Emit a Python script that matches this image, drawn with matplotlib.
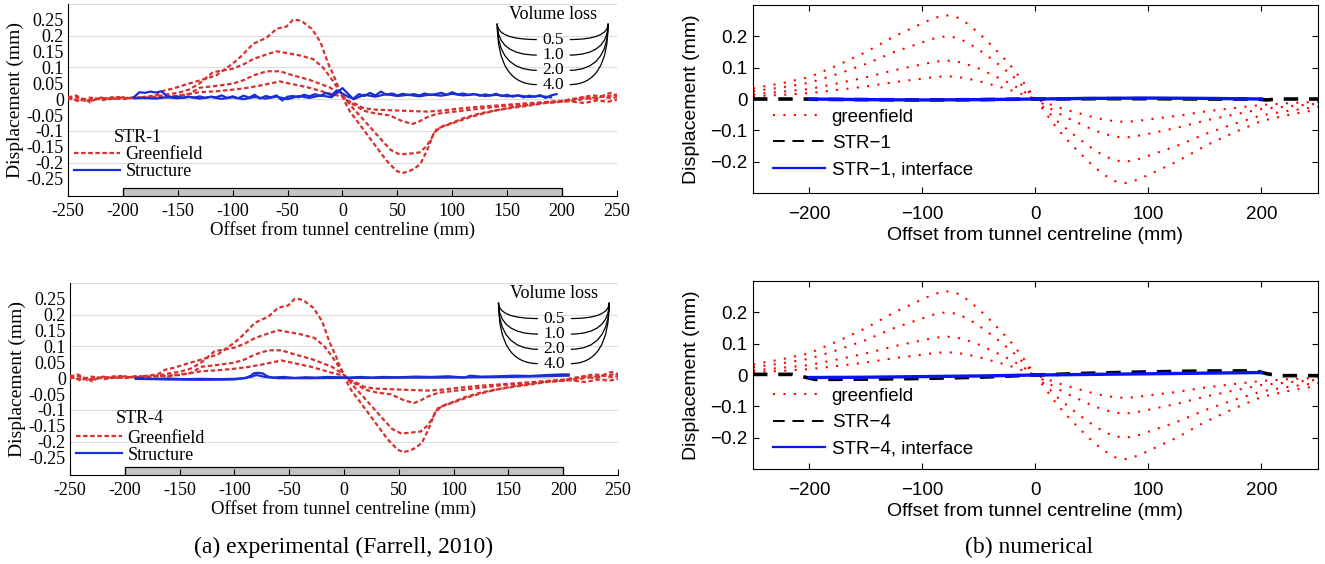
import matplotlib.pyplot as plt
from matplotlib.lines import Line2D
from matplotlib.patches import Rectangle, PathPatch
from matplotlib.path import Path

SERIF = 'Liberation Serif'
SANS = 'Liberation Sans'

# ---- (a) experimental greenfield curves, one per volume loss (%)
gf_exp_x_40 = [-250, -245, -240, -235, -230, -225, -220, -210, -200, -190,
               -180, -170, -163, -155, -142, -130, -115, -100, -93, -81,
               -69, -60, -51, -45, -40, -36, -28, -20, -13, -8,
               -4, 0, 3, 7, 13, 22, 31, 40, 49, 54,
               60, 65, 71, 77, 83, 89, 98, 110, 125, 140,
               155, 170, 185, 200, 210, 220, 230, 238, 244, 250]
gf_exp_y_40 = [0.010, 0.000, -0.008, 0.002, -0.010, 0.000, 0.005, 0.000, 0.006, 0.002,
               0.008, 0.012, 0.027, 0.033, 0.047, 0.059, 0.075, 0.112, 0.133, 0.175,
               0.194, 0.222, 0.229, 0.250, 0.249, 0.243, 0.222, 0.180, 0.112, 0.075,
               0.040, 0.010, -0.014, -0.040, -0.067, -0.109, -0.151, -0.193, -0.225, -0.233,
               -0.228, -0.220, -0.204, -0.162, -0.109, -0.088, -0.077, -0.060, -0.045, -0.035,
               -0.025, -0.018, -0.010, -0.006, 0.000, 0.005, 0.000, 0.012, 0.020, 0.010]

gf_exp_x_20 = [-250, -243, -236, -228, -220, -212, -204, -196, -188, -180,
               -170, -160, -150, -140, -130, -118, -100, -90, -81, -70,
               -60, -50, -39, -27, -18, -11, -5, 0, 4, 10,
               18, 27, 36, 44, 52, 60, 70, 76, 80, 86,
               95, 105, 115, 125, 140, 155, 170, 185, 200, 212,
               224, 236, 244, 250]
gf_exp_y_20 = [0.005, 0.012, 0.000, -0.005, 0.004, 0.000, 0.007, 0.003, 0.006, 0.004,
               0.008, 0.015, 0.020, 0.030, 0.050, 0.085, 0.096, 0.110, 0.127, 0.140,
               0.151, 0.145, 0.138, 0.127, 0.101, 0.069, 0.038, 0.012, -0.005, -0.030,
               -0.060, -0.095, -0.130, -0.160, -0.174, -0.172, -0.168, -0.150, -0.130, -0.093,
               -0.082, -0.070, -0.058, -0.048, -0.035, -0.027, -0.020, -0.012, -0.008, -0.004,
               0.003, 0.008, 0.004, 0.006]

gf_exp_x_10 = [-250, -242, -234, -226, -218, -210, -200, -190, -180, -170,
               -160, -150, -140, -130, -115, -100, -90, -81, -69, -57,
               -45, -30, -20, -11, -4, 0, 5, 12, 19, 30,
               43, 55, 64, 70, 77, 86, 100, 115, 130, 150,
               170, 190, 205, 220, 232, 242, 250]
gf_exp_y_10 = [0.000, 0.006, -0.006, 0.003, -0.003, 0.004, 0.000, 0.006, 0.003, 0.008,
               0.006, 0.012, 0.016, 0.036, 0.042, 0.049, 0.060, 0.075, 0.088, 0.088,
               0.075, 0.061, 0.048, 0.036, 0.020, 0.010, -0.008, -0.020, -0.036, -0.045,
               -0.051, -0.070, -0.078, -0.070, -0.057, -0.046, -0.040, -0.034, -0.028, -0.020,
               -0.015, -0.010, -0.006, -0.012, -0.004, -0.008, -0.002]

gf_exp_x_05 = [-250, -240, -230, -220, -210, -200, -190, -180, -170, -160,
               -150, -130, -115, -100, -88, -75, -57, -45, -30, -13,
               -5, 0, 5, 12, 19, 30, 45, 60, 77, 90,
               105, 120, 140, 160, 180, 200, 215, 228, 240, 250]
gf_exp_y_05 = [0.004, -0.004, 0.005, 0.000, 0.006, 0.002, 0.005, 0.004, 0.006, 0.008,
               0.010, 0.022, 0.025, 0.030, 0.035, 0.043, 0.056, 0.047, 0.036, 0.019,
               0.012, 0.008, -0.005, -0.015, -0.028, -0.033, -0.035, -0.037, -0.039, -0.036,
               -0.030, -0.025, -0.020, -0.015, -0.010, -0.005, 0.004, 0.012, 0.008, 0.015]

# ---- (a) measured structure displacement, STR-1 (two traces)
str1_exp_x_a = [-190, -185, -180, -175, -170, -165, -160, -155, -150, -145,
                -140, -135, -130, -125, -120, -115, -110, -105, -100, -95,
                -90, -85, -80, -75, -70, -65, -60, -55, -50, -45,
                -40, -35, -30, -25, -20, -15, -10, -5, 0, 5,
                10, 15, 20, 25, 30, 35, 40, 45, 50, 55,
                60, 65, 70, 75, 80, 85, 90, 95, 100, 105,
                110, 115, 120, 125, 130, 135, 140, 145, 150, 155,
                160, 165, 170, 175, 180, 185, 190, 195]
str1_exp_y_a = [0.006, 0.022, 0.020, 0.024, 0.021, 0.025, 0.010, 0.006, 0.008, 0.004,
                0.007, 0.005, 0.009, 0.004, 0.008, 0.006, 0.012, 0.004, 0.009, 0.003,
                0.011, 0.005, 0.014, 0.002, 0.010, 0.006, 0.012, -0.004, 0.008, 0.010,
                0.006, 0.014, 0.009, 0.016, 0.010, 0.020, 0.012, 0.028, 0.018, 0.008,
                0.002, 0.016, 0.010, 0.020, 0.012, 0.024, 0.014, 0.018, 0.012, 0.017,
                0.013, 0.016, 0.012, 0.018, 0.013, 0.016, 0.020, 0.014, 0.022, 0.015,
                0.018, 0.013, 0.016, 0.011, 0.015, 0.012, 0.017, 0.010, 0.014, 0.008,
                0.012, 0.006, 0.011, 0.008, 0.013, 0.004, 0.012, 0.016]
str1_exp_x_b = [-190, -180, -170, -160, -150, -140, -130, -120, -110, -100,
                -90, -80, -70, -60, -50, -40, -30, -20, -10, 0,
                10, 20, 30, 40, 50, 60, 70, 80, 90, 100,
                110, 120, 130, 140, 150, 160, 170, 180, 190]
str1_exp_y_b = [0.003, 0.004, 0.002, 0.006, 0.003, 0.008, 0.002, 0.007, 0.001, 0.006,
                0.000, 0.007, 0.002, 0.008, 0.000, 0.010, 0.004, 0.012, 0.006, 0.035,
                0.000, 0.014, 0.008, 0.016, 0.010, 0.014, 0.009, 0.015, 0.011, 0.017,
                0.012, 0.016, 0.010, 0.014, 0.009, 0.012, 0.007, 0.010, 0.006]

# ---- (a) measured structure displacement, STR-4 (two traces)
str4_exp_x_a = [-190, -175, -160, -145, -130, -115, -100, -90, -85, -82,
                -78, -74, -70, -65, -55, -45, -35, -25, -15, -5,
                5, 15, 25, 35, 50, 65, 80, 95, 110, 115,
                125, 140, 155, 170, 185, 200, 205]
str4_exp_y_a = [0.000, -0.002, -0.001, -0.003, -0.002, -0.003, -0.002, 0.000, 0.008, 0.016,
                0.017, 0.015, 0.006, 0.002, 0.004, 0.001, 0.003, 0.002, 0.004, 0.003,
                0.002, 0.004, 0.002, 0.004, 0.003, 0.005, 0.004, 0.006, 0.002, 0.008,
                0.005, 0.006, 0.008, 0.007, 0.010, 0.012, 0.012]
str4_exp_x_b = [-190, -160, -130, -100, -85, -80, -72, -60, -30, 0,
                30, 60, 90, 120, 150, 180, 205]
str4_exp_y_b = [-0.002, -0.004, -0.005, -0.004, 0.004, 0.010, 0.004, 0.000, 0.000, 0.001,
                0.001, 0.002, 0.002, 0.003, 0.004, 0.006, 0.008]

STRUCTURE_SPAN = (-200, 200)
VOLUME_LOSS_LABELS = ['0.5', '1.0', '2.0', '4.0']
VOLUME_LOSS_Y = [0.188, 0.139, 0.091, 0.046]

exp_xticks = [-250, -200, -150, -100, -50, 0, 50, 100, 150, 200, 250]
exp_xlabels = ['-250', '-200', '-150', '-100', '-50', '0', '50', '100', '150', '200', '250']
exp_yticks = [-0.25, -0.2, -0.15, -0.1, -0.05, 0, 0.05, 0.1, 0.15, 0.2, 0.25]
exp_ylabels = ['-0.25', '-0.2', '-0.15', '-0.1', '-0.05', '0', '0.05', '0.1', '0.15', '0.2', '0.25']
exp_grid = [-0.2, -0.1, 0.0, 0.1, 0.2, 0.3]

# ---- (b) numerical greenfield curves
gf_num_x = [-250, -225, -200, -175, -150, -125, -100, -90, -80, -70, -60, -50, -40, -30, -20, -10, 0,
            10, 20, 30, 40, 50, 60, 70, 80, 90, 100, 125, 150, 175, 200, 225, 250]
gf_num_40 = [0.034, 0.050, 0.070, 0.108, 0.150, 0.200, 0.242, 0.258, 0.268, 0.262, 0.240, 0.210,
             0.175, 0.138, 0.098, 0.050, 0.0,
             -0.050, -0.098, -0.138, -0.175, -0.210, -0.240, -0.262, -0.268, -0.258, -0.242,
             -0.200, -0.150, -0.108, -0.070, -0.050, -0.034]
gf_num_20 = [0.025, 0.037, 0.052, 0.080, 0.112, 0.150, 0.181, 0.193, 0.200, 0.196, 0.180, 0.157,
             0.131, 0.103, 0.073, 0.037, 0.0,
             -0.037, -0.073, -0.103, -0.131, -0.157, -0.180, -0.196, -0.200, -0.193, -0.181,
             -0.150, -0.112, -0.080, -0.052, -0.037, -0.025]
gf_num_10 = [0.015, 0.023, 0.032, 0.050, 0.069, 0.092, 0.111, 0.118, 0.123, 0.120, 0.110, 0.097,
             0.080, 0.063, 0.045, 0.023, 0.0,
             -0.023, -0.045, -0.063, -0.080, -0.097, -0.110, -0.120, -0.123, -0.118, -0.111,
             -0.092, -0.069, -0.050, -0.032, -0.023, -0.015]
gf_num_05 = [0.009, 0.013, 0.019, 0.029, 0.040, 0.054, 0.065, 0.070, 0.073, 0.071, 0.065, 0.057,
             0.047, 0.037, 0.026, 0.013, 0.0,
             -0.013, -0.026, -0.037, -0.047, -0.057, -0.065, -0.071, -0.073, -0.070, -0.065,
             -0.054, -0.040, -0.029, -0.019, -0.013, -0.009]

# ---- (b) numerical structure results
str_num_x = [-250, -215, -205, -195, -150, -100, -50, 0, 50, 100, 150, 195, 205, 215, 250]
str1_num = [0.0, 0.0, 0.0, -0.001, -0.002, -0.003, -0.002, 0.0, 0.001, 0.001, 0.0, 0.0, -0.003, 0.0, 0.0]
str4_num = [0.002, 0.002, -0.006, -0.014, -0.013, -0.011, -0.007, 0.0, 0.006, 0.010, 0.013, 0.013,
            0.004, -0.002, -0.002]
iface_x = [-200, -150, -100, -50, 0, 50, 100, 150, 200]
str1_iface = [0.0, -0.002, -0.003, -0.002, 0.0, 0.002, 0.003, 0.002, 0.0]
str4_iface = [-0.008, -0.007, -0.005, -0.003, 0.0, 0.002, 0.004, 0.006, 0.008]

num_xticks = [-200, -100, 0, 100, 200]
num_xlabels = ['\u2212200', '\u2212100', '0', '100', '200']
num_yticks = [-0.2, -0.1, 0, 0.1, 0.2]
num_ylabels = ['\u22120.2', '\u22120.1', '0', '0.1', '0.2']

RED_EXP = '#d8302c'
BLUE_EXP = '#1a2ed6'
BLUE_NUM = '#0a14f0'
EXP_DASH = (0, (2.0, 1.2))
NUM_DOT = (0, (1, 4))


def volume_loss_key(ax):
    ax.text(192, 0.266, 'Volume loss', family=SERIF, fontsize=13, ha='center', va='center')
    y_top = 0.238
    for lab, yl in zip(VOLUME_LOSS_LABELS, VOLUME_LOSS_Y):
        ax.text(192, yl, lab, family=SERIF, fontsize=12.5, ha='center', va='center')
        left = Path([(141, y_top), (141, yl), (177, yl)], [Path.MOVETO, Path.CURVE3, Path.CURVE3])
        right = Path([(242, y_top), (242, yl), (207, yl)], [Path.MOVETO, Path.CURVE3, Path.CURVE3])
        for p in (left, right):
            ax.add_patch(PathPatch(p, fc='none', ec='black', lw=0.9))


def draw_experimental(ax, name, traces, legend_y, name_y):
    for yv in exp_grid:
        ax.axhline(yv, color='#dcdcdc', lw=0.8, zorder=0)
    ax.add_patch(Rectangle((STRUCTURE_SPAN[0], -0.31), STRUCTURE_SPAN[1] - STRUCTURE_SPAN[0], 0.03,
                           fc='#c4c4c4', ec='black', lw=0.9, zorder=1))
    for gx, gy in [(gf_exp_x_40, gf_exp_y_40), (gf_exp_x_20, gf_exp_y_20),
                   (gf_exp_x_10, gf_exp_y_10), (gf_exp_x_05, gf_exp_y_05)]:
        ax.plot(gx, gy, color=RED_EXP, lw=1.6, ls=EXP_DASH, zorder=3)
    for sx, sy in traces:
        ax.plot(sx, sy, color=BLUE_EXP, lw=1.6, zorder=4)
    ax.set_xlim(-250, 250)
    ax.set_ylim(-0.305, 0.3)
    ax.set_xticks(exp_xticks, exp_xlabels)
    ax.set_yticks(exp_yticks, exp_ylabels)
    for lab in ax.get_xticklabels() + ax.get_yticklabels():
        lab.set_family(SERIF)
        lab.set_fontsize(13)
    ax.tick_params(axis='x', direction='in', length=4, pad=5)
    ax.tick_params(axis='y', length=0, pad=3)
    for s in ('top', 'right'):
        ax.spines[s].set_visible(False)
    ax.set_xlabel('Offset from tunnel centreline (mm)', family=SERIF, fontsize=13.5, labelpad=1)
    ax.set_ylabel('Displacement (mm)', family=SERIF, fontsize=14, labelpad=2)
    ax.text(-208, name_y, name, family=SERIF, fontsize=13, ha='left', va='center')
    handles = [Line2D([], [], color=RED_EXP, lw=1.6, ls=EXP_DASH),
               Line2D([], [], color=BLUE_EXP, lw=1.6)]
    ax.legend(handles, ['Greenfield', 'Structure'], loc='upper left', bbox_to_anchor=(0.011, legend_y),
              frameon=False, borderpad=0, borderaxespad=0, handlelength=2.55, handletextpad=0.3,
              labelspacing=0.0, prop={'family': SERIF, 'size': 13})
    volume_loss_key(ax)


def draw_numerical(ax, name, str_y, iface_y, legend_y):
    for gy in (gf_num_40, gf_num_20, gf_num_10, gf_num_05):
        ax.plot(gf_num_x, gy, color='red', lw=1.5, ls=NUM_DOT, zorder=2)
    ax.plot(str_num_x, str_y, color='black', lw=2.6, ls=(0, (4, 3)), zorder=3)
    ax.plot(iface_x, iface_y, color=BLUE_NUM, lw=2.4, zorder=4)
    ax.set_xlim(-250, 250)
    ax.set_ylim(-0.3, 0.3)
    ax.set_xticks(num_xticks, num_xlabels)
    ax.set_yticks(num_yticks, num_ylabels)
    ax.tick_params(direction='in', length=4, top=True, right=True, labelsize=13.5, pad=9)
    ax.tick_params(axis='y', pad=4)
    for lab in ax.get_xticklabels() + ax.get_yticklabels():
        lab.set_family(SANS)
    ax.set_xlabel('Offset from tunnel centreline (mm)', family=SANS, fontsize=14, labelpad=3)
    ax.set_ylabel('Displacement (mm)', family=SANS, fontsize=14, labelpad=7)
    handles = [Line2D([], [], color='red', lw=1.5, ls=NUM_DOT),
               Line2D([], [], color='black', lw=1.4, ls=(0, (6, 4))),
               Line2D([], [], color=BLUE_NUM, lw=1.6)]
    ax.legend(handles, ['greenfield', name, name + ', interface'], loc='upper left',
              bbox_to_anchor=(0.035, legend_y), frameon=False, borderpad=0, borderaxespad=0,
              handlelength=2.77, handletextpad=0.37, labelspacing=0.5,
              prop={'family': SANS, 'size': 13.5})


fig = plt.figure(figsize=(13.25, 5.64), dpi=100)
ax1 = fig.add_axes([0.0513, 0.6525, 0.4143, 0.3404])
ax2 = fig.add_axes([0.0528, 0.1578, 0.4136, 0.3404])
ax3 = fig.add_axes([0.5683, 0.6578, 0.4264, 0.3333])
ax4 = fig.add_axes([0.5683, 0.1684, 0.4264, 0.3333])

draw_experimental(ax1, 'STR-1', [(str1_exp_x_a, str1_exp_y_a), (str1_exp_x_b, str1_exp_y_b)], 0.258, -0.12)
draw_experimental(ax2, 'STR-4', [(str4_exp_x_a, str4_exp_y_a), (str4_exp_x_b, str4_exp_y_b)], 0.237, -0.128)
draw_numerical(ax3, 'STR\u22121', str1_num, str1_iface, 0.45)
draw_numerical(ax4, 'STR\u22124', str4_num, str4_iface, 0.434)

fig.text(0.2596, 0.030, '(a) experimental (Farrell, 2010)', family=SERIF, fontsize=17, ha='center', va='center')
fig.text(0.777, 0.030, '(b) numerical', family=SERIF, fontsize=17, ha='center', va='center')

fig.savefig('out.png', dpi=100)
